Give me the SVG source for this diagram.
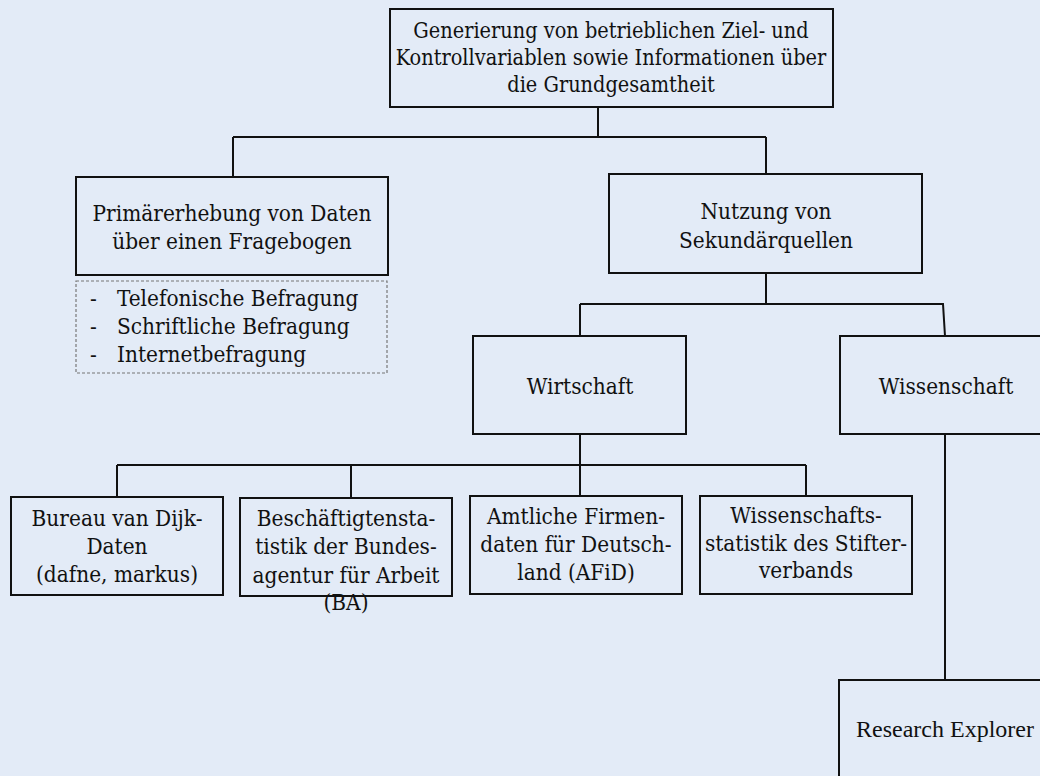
<svg xmlns="http://www.w3.org/2000/svg" width="1040" height="776" viewBox="0 0 1040 776">
<style>
.bg{fill:#E3EBF7}
.box{fill:#E3EBF7;stroke:#111;stroke-width:2}
.dash{fill:#E3EBF7;stroke:#777;stroke-width:1.2;stroke-dasharray:3 2}
.con{fill:none;stroke:#111;stroke-width:2}
.t{font-family:'DejaVu Serif Condensed','DejaVu Serif',serif;font-stretch:condensed;font-size:22.4px;fill:#111;text-anchor:middle}
.t2{font-family:'DejaVu Serif Condensed','DejaVu Serif',serif;font-stretch:condensed;font-size:21.5px;fill:#111;text-anchor:middle}
.l{font-family:'DejaVu Serif Condensed','DejaVu Serif',serif;font-stretch:condensed;font-size:22.4px;fill:#111}
.tr{font-family:'Liberation Serif','Times New Roman',serif;font-size:24px;fill:#111;text-anchor:middle}
</style>
<rect class="bg" x="0" y="0" width="1040" height="776"/>
<g id="connectors">
<path class="con" d="M598 107V137M233 137H766M233 137V177M766 137V174"/>
<path class="con" d="M766 273V304M580 304H943L945 336M580 304V336"/>
<path class="con" d="M580 434V465M117 465H806M117 465V497M351 465V498M580 465V496M806 465V496"/>
<path class="con" d="M945 434V680"/>
</g>
<g id="root">
<rect class="box" x="390" y="9" width="443" height="98"/>
<text class="t2" x="611" y="38">Generierung von betrieblichen Ziel- und</text>
<text class="t2" x="611" y="65">Kontrollvariablen sowie Informationen über</text>
<text class="t2" x="611" y="92">die Grundgesamtheit</text>
</g>
<g id="primaer">
<rect class="box" x="76" y="177" width="312" height="98"/>
<text class="t" x="232" y="221">Primärerhebung von Daten</text>
<text class="t" x="232" y="249">über einen Fragebogen</text>
</g>
<g id="primaer-liste">
<rect class="dash" x="76" y="281" width="311" height="92"/>
<text class="l" x="90" y="306">-</text>
<text class="l" x="117" y="306">Telefonische Befragung</text>
<text class="l" x="90" y="334">-</text>
<text class="l" x="117" y="334">Schriftliche Befragung</text>
<text class="l" x="90" y="362">-</text>
<text class="l" x="117" y="362">Internetbefragung</text>
</g>
<g id="nutzung">
<rect class="box" x="609" y="174" width="313" height="99"/>
<text class="t" x="766" y="219">Nutzung von</text>
<text class="t" x="766" y="248">Sekundärquellen</text>
</g>
<g id="wirtschaft">
<rect class="box" x="473" y="336" width="213" height="98"/>
<text class="t" x="580" y="394">Wirtschaft</text>
</g>
<g id="wissenschaft">
<rect class="box" x="840" y="336" width="210" height="98"/>
<text class="t" x="946" y="394">Wissenschaft</text>
</g>
<g id="bvd">
<rect class="box" x="11" y="497" width="212" height="98"/>
<text class="t" x="117" y="526">Bureau van Dijk-</text>
<text class="t" x="117" y="554">Daten</text>
<text class="t" x="117" y="582">(dafne, markus)</text>
</g>
<g id="ba">
<rect class="box" x="240" y="498" width="212" height="98"/>
<text class="t" x="346" y="526">Beschäftigtensta-</text>
<text class="t" x="346" y="554">tistik der Bundes-</text>
<text class="t" x="346" y="583">agentur für Arbeit</text>
<text class="t" x="346" y="610">(BA)</text>
</g>
<g id="afid">
<rect class="box" x="470" y="496" width="212" height="98"/>
<text class="t" x="576" y="524">Amtliche Firmen-</text>
<text class="t" x="576" y="552">daten für Deutsch-</text>
<text class="t" x="576" y="580">land (AFiD)</text>
</g>
<g id="stifterverband">
<rect class="box" x="700" y="496" width="212" height="98"/>
<text class="t" x="806" y="523">Wissenschafts-</text>
<text class="t" x="806" y="551">statistik des Stifter-</text>
<text class="t" x="806" y="578">verbands</text>
</g>
<g id="research-explorer">
<rect class="box" x="839" y="680" width="220" height="120"/>
<text class="tr" x="945" y="737">Research Explorer</text>
</g>
</svg>
